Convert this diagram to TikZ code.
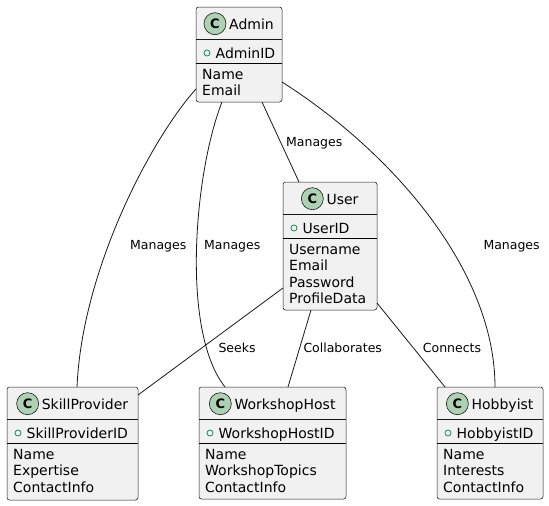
\documentclass[tikz,border=0pt]{standalone}
\usepackage{fontspec}
\setmainfont{DejaVu Sans}
\usetikzlibrary{calc}
\definecolor{boxfill}{HTML}{F1F1F1}
\definecolor{boxline}{HTML}{181818}
\definecolor{cfill}{HTML}{ADD1B2}
\definecolor{visgreen}{HTML}{038048}
\tikzset{
 classbox/.style={draw=boxline, line width=0.5pt, fill=boxfill, rounded corners=2.5pt, inner sep=0pt, outer sep=0pt},
 hsep/.style={draw=boxline, line width=0.5pt},
 tsep/.style={draw=black, line width=1pt},
 ctext/.style={font=\fontsize{14pt}{16pt}\selectfont, inner sep=0pt, text=black},
 lbl/.style={font=\fontsize{12.5pt}{15pt}\selectfont, inner sep=0pt, anchor=base west},
 rel/.style={draw=boxline, line width=0.8pt},
 cicon/.style={draw=boxline, line width=0.6pt, fill=cfill},
 vicon/.style={draw=visgreen, line width=0.7pt},
}
\newcommand\classbody[4]{%
  \node[ctext, anchor=base] (#1t) at ($(#1.north)+(0,22)$) {\hspace{25pt}#2};
  \draw[cicon] ($(#1t.base west)+(11,-5.3)$) circle (11pt);
  \node[font=\fontsize{13pt}{13pt}\selectfont\bfseries, inner sep=0pt] (#1c) at ($(#1t.base west)+(11,-5.3)$) {C};
  \draw[hsep] ($(#1.north west)+(0,32)$) -- ($(#1.north east)+(0,32)$);
  \draw[tsep] ($(#1.north west)+(0,56)$) -- ($(#1.north east)+(0,56)$);
  \draw[vicon] ($(#1.north west)+(11,46)$) circle (3pt);
  \node[ctext, anchor=base west] (#1a) at ($(#1.north west)+(19.5,51.3)$) {#3};
  \foreach \f [count=\i from 0] in {#4} {
    \node[ctext, anchor=base west] (#1f\i) at ($(#1.north west)+(6,72+16.5*\i)$) {\f};
  }
}
\begin{document}
\begin{tikzpicture}[x=1pt, y=-1pt]
\useasboundingbox (0,0) rectangle (549,506);
% boxes
\node[classbox, minimum width=86pt, minimum height=95pt] (admin) at (239,54.5) {};
\node[classbox, minimum width=94pt, minimum height=128pt] (user) at (330,246) {};
\node[classbox, minimum width=131pt, minimum height=113pt] (skill) at (72.5,443.5) {};
\node[classbox, minimum width=147pt, minimum height=112pt] (workshop) at (272.5,443) {};
\node[classbox, minimum width=106pt, minimum height=112pt] (hobby) at (490,443) {};
% contents
\classbody{admin}{Admin}{AdminID}{Name,Email}
\classbody{user}{User}{UserID}{Username,Email,Password,ProfileData}
\classbody{skill}{SkillProvider}{SkillProviderID}{Name,Expertise,ContactInfo}
\classbody{workshop}{WorkshopHost}{WorkshopHostID}{Name,WorkshopTopics,ContactInfo}
\classbody{hobby}{Hobbyist}{HobbyistID}{Name,Interests,ContactInfo}
% relations
\draw[rel] ($(admin.north west)+(0,82)$) .. controls (151,139) and (82,270) .. ($(skill.north west)+(70,0)$);
\draw[rel] ($(admin.south west)+(26,0)$) .. controls (195,170) and (180,330) .. ($(workshop.north west)+(26,0)$);
\draw[rel] ($(admin.south west)+(66,0)$) -- ($(user.north west)+(16,0)$);
\draw[rel] ($(admin.north east)+(0,75)$) .. controls (392,152) and (495,270) .. ($(hobby.north west)+(58,0)$);
\draw[rel] ($(user.north west)+(0,106)$) -- ($(skill.north east)+(0,8)$);
\draw[rel] ($(user.south west)+(28,0)$) -- ($(workshop.north west)+(89,0)$);
\draw[rel] ($(user.south east)+(0,-7)$) -- ($(hobby.north west)+(8,0)$);
% labels
\node[lbl] (l1) at (130,249.5) {Manages};
\node[lbl] (l2) at (204,249.5) {Manages};
\node[lbl] (l3) at (286,146.5) {Manages};
\node[lbl] (l4) at (483.3,249.5) {Manages};
\node[lbl] (l5) at (218.3,352) {Seeks};
\node[lbl] (l6) at (303.3,352) {Collaborates};
\node[lbl] (l7) at (422.7,352) {Connects};
\end{tikzpicture}
\end{document}
